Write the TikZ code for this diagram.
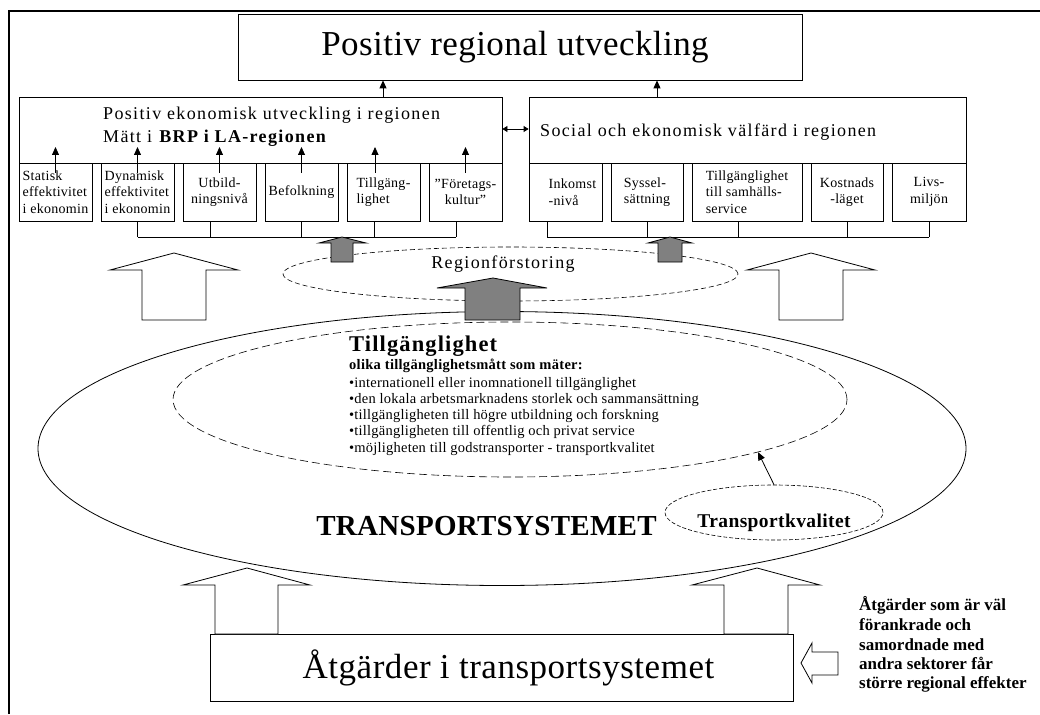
\documentclass[tikz,border=0pt]{standalone}
\usepackage{fontspec}
\setmainfont{Liberation Serif}
\newfontfamily\tgfont[LetterSpace=5]{Liberation Serif Bold}
\usetikzlibrary{shapes.geometric,arrows.meta}
\definecolor{greyfill}{HTML}{808080}
\tikzset{
  bx/.style={draw, line width=0.8pt, inner sep=1pt, rectangle},
  smallbox/.style={bx, minimum height=58pt, font=\fontsize{14}{16.5}\selectfont\addfontfeatures{LetterSpace=2}},
  bigtxt/.style={anchor=base west, inner sep=0pt, font=\fontsize{18}{20}\selectfont\addfontfeatures{LetterSpace=7.5}},
  bullettxt/.style={anchor=base west, inner sep=0pt, font=\fontsize{14.5}{16}\selectfont\addfontfeatures{LetterSpace=1.5}},
  sidetxt/.style={anchor=base west, inner sep=0pt, font=\fontsize{17}{19}\selectfont\bfseries},
  arr/.style={line width=0.8pt, -{Triangle[length=8pt,width=7pt]}},
  conn/.style={line width=0.8pt},
  blockarrow/.style={draw, line width=0.8pt, fill=white, line join=miter},
  greyarrow/.style={draw, line width=0.8pt, fill=greyfill, line join=miter},
  dashell/.style={draw, line width=0.6pt, ellipse, inner sep=0pt},
}
\begin{document}
\begin{tikzpicture}[x=1pt,y=-1pt]
\useasboundingbox (0,0) rectangle (1040,714);
% frame
\draw[line width=1.5pt] (9,714) -- (9,11) -- (1040,11);

% ellipses
\node[draw, ellipse, line width=0.8pt, minimum width=928pt, minimum height=274pt, inner sep=0pt] (ts) at (502,448.5) {};
\node[dashell, dash pattern=on 8pt off 4pt, minimum width=674pt, minimum height=155pt] (acc) at (510,399.5) {};
\node[dashell, dash pattern=on 5pt off 3pt, minimum width=455pt, minimum height=54pt] (rf) at (510.5,274) {};
\node[dashell, dash pattern=on 4pt off 2pt, minimum width=218pt, minimum height=55pt] (tk) at (774,512.5) {};

% ellipse texts
\node[anchor=base, inner sep=0pt, font=\fontsize{18}{20}\selectfont\addfontfeatures{LetterSpace=7.5}] (rft) at (503,268) {Regionförstoring};
\node[anchor=base, inner sep=0pt, font=\fontsize{29}{32}\selectfont\bfseries\addfontfeatures{LetterSpace=1}] (tst) at (486.5,535) {TRANSPORTSYSTEMET};
\node[anchor=base, inner sep=0pt, font=\fontsize{19.5}{22}\selectfont\bfseries\addfontfeatures{LetterSpace=2}] (tkt) at (774,527) {Transportkvalitet};

\node[anchor=base west, inner sep=0pt, font=\tgfont\fontsize{22.5}{26}\selectfont] (t0) at (349,351.7) {Tillgänglighet};
\node[anchor=base west, inner sep=0pt, font=\fontsize{14.5}{16}\selectfont\bfseries\addfontfeatures{LetterSpace=2}] (t1) at (349,369.3) {olika tillgänglighetsmått som mäter:};
\node[bullettxt] (t2) at (349,387) {•internationell eller inomnationell tillgänglighet};
\node[bullettxt] (t3) at (349,403) {•den lokala arbetsmarknadens storlek och sammansättning};
\node[bullettxt] (t4) at (349,419) {•tillgängligheten till högre utbildning och forskning};
\node[bullettxt] (t5) at (349,435.5) {•tillgängligheten till offentlig och privat service};
\node[bullettxt] (t6) at (349,452) {•möjligheten till godstransporter - transportkvalitet};

\draw[arr] (tk.north) -- (acc.-12.6);

% top boxes
\node[bx, minimum width=564pt, minimum height=66pt, font=\fontsize{35}{40}\selectfont\addfontfeatures{LetterSpace=1.2}] (top) at (520,47) {Positiv regional utveckling\hspace*{10pt}};
\node[bx, minimum width=483pt, minimum height=66pt] (L) at (260.5,130) {};
\node[bx, minimum width=437pt, minimum height=66pt] (R) at (747.5,130) {};
\node[bigtxt] (Lt1) at (103,119.3) {Positiv ekonomisk utveckling i regionen};
\node[bigtxt] (Lt2) at (103,142.7) {Mätt i \textbf{BRP i LA-regionen}};
\node[bigtxt] (Rt) at (540,136.5) {Social och ekonomisk välfärd i regionen};

% small boxes left
\node[smallbox, minimum width=73pt, align=left] (s1) at (55.5,192) {Statisk\\effektivitet\\i ekonomin};
\node[smallbox, minimum width=73pt, align=left] (s2) at (137.5,192) {Dynamisk\\effektivitet\\i ekonomin};
\node[smallbox, minimum width=73pt, align=center] (s3) at (219.5,192) {Utbild-\\ningsnivå};
\node[smallbox, minimum width=73pt, align=center] (s4) at (301.5,192) {Befolkning};
\node[smallbox, minimum width=73pt, align=left] (s5) at (383.5,192) {Tillgäng-\\lighet};
\node[smallbox, minimum width=73pt, align=center] (s6) at (465.5,192) {”Företags-\\kultur”};

% small boxes right
\node[smallbox, minimum width=73pt, align=left] (r1) at (565.5,192) {\hspace*{14pt}Inkomst\\\hspace*{14pt}-nivå};
\node[smallbox, minimum width=72pt, align=left] (r2) at (647,192) {Syssel-\\sättning};
\node[smallbox, minimum width=110pt, align=left] (r3) at (747,192) {Tillgänglighet\\till samhälls-\\service};
\node[smallbox, minimum width=72pt, align=center] (r4) at (847,192) {Kostnads\\-läget};
\node[smallbox, minimum width=74pt, align=center] (r5) at (929,192) {Livs-\\miljön};

% arrows into boxes
\coordinate (tipline) at (0,147);
\foreach \n/\dx in {s1/0,s2/0,s3/0,s4/0,s5/-8.5,s6/0}
  \draw[arr] ([xshift=\dx pt, yshift=-10pt]\n.north) -- ([xshift=\dx pt]\n.north |- tipline);
\draw[arr] ([xshift=122.5pt]L.north) -- ([xshift=122.5pt]L.north |- top.south);
\draw[arr] ([xshift=-90.5pt]R.north) -- ([xshift=-90.5pt]R.north |- top.south);
\draw[line width=0.8pt, {Triangle[length=5pt,width=6pt]}-{Triangle[length=5pt,width=6pt]}] ([yshift=1pt]L.east) -- ([yshift=1pt]R.west);

% brackets
\coordinate (lbL) at (137.5,237);
\coordinate (lbR) at (456,237);
\draw[conn] (lbL) -- (lbR);
\foreach \n/\dx in {s2/0, s3/-9.5, s4/0, s5/-9.5, s6/-9.5}
  \draw[conn] ([xshift=\dx pt]\n.south) -- ([xshift=\dx pt]\n.south |- lbL);
\coordinate (rbL) at (547,237);
\coordinate (rbR) at (929,237);
\draw[conn] (rbL) -- (rbR);
\foreach \n/\dx in {r1/-18.5, r2/0, r3/-9, r4/0, r5/0}
  \draw[conn] ([xshift=\dx pt]\n.south) -- ([xshift=\dx pt]\n.south |- rbL);

% grey arrows
\draw[greyarrow] (342,237) -- (366,243) -- (353,243) -- (353,262) -- (331,262) -- (331,243) -- (319,243) -- cycle;
\draw[greyarrow] (670,237) -- (692,243) -- (682,243) -- (682,262) -- (658,262) -- (658,243) -- (648,243) -- cycle;
\draw[greyarrow] (493,278) -- (547,288) -- (520,288) -- (520,320) -- (465,320) -- (465,288) -- (437,288) -- cycle;

% white block arrows
\draw[blockarrow] (174,253) -- (238,270) -- (206,270) -- (206,320) -- (142,320) -- (142,270) -- (110,270) -- cycle;
\draw[blockarrow] (811,253) -- (875,270) -- (843,270) -- (843,320) -- (779,320) -- (779,270) -- (747,270) -- cycle;

% bottom box
\node[bx, minimum width=583pt, minimum height=67pt, font=\fontsize{35}{40}\selectfont\addfontfeatures{LetterSpace=1.5}] (B) at (501.5,667.5) {\hspace*{14pt}Åtgärder i transportsystemet};
\draw[blockarrow] (247,568) -- (310,585) -- (278,585) -- (278,634) -- (215,634) -- (215,585) -- (183,585) -- cycle;
\draw[blockarrow] (757,568) -- (820,585) -- (788,585) -- (788,634) -- (724,634) -- (724,585) -- (692,585) -- cycle;
\draw[blockarrow] (801,663) -- (812,643) -- (812,652) -- (838,652) -- (838,675) -- (812,675) -- (812,683) -- cycle;

% side text
\node[sidetxt] (e1) at (859,610.7) {Åtgärder som är väl};
\node[sidetxt] (e2) at (859,630) {förankrade och};
\node[sidetxt] (e3) at (859,650) {samordnade med};
\node[sidetxt] (e4) at (859,669) {andra sektorer får};
\node[sidetxt] (e5) at (859,688) {större regional effekter};
\end{tikzpicture}
\end{document}
